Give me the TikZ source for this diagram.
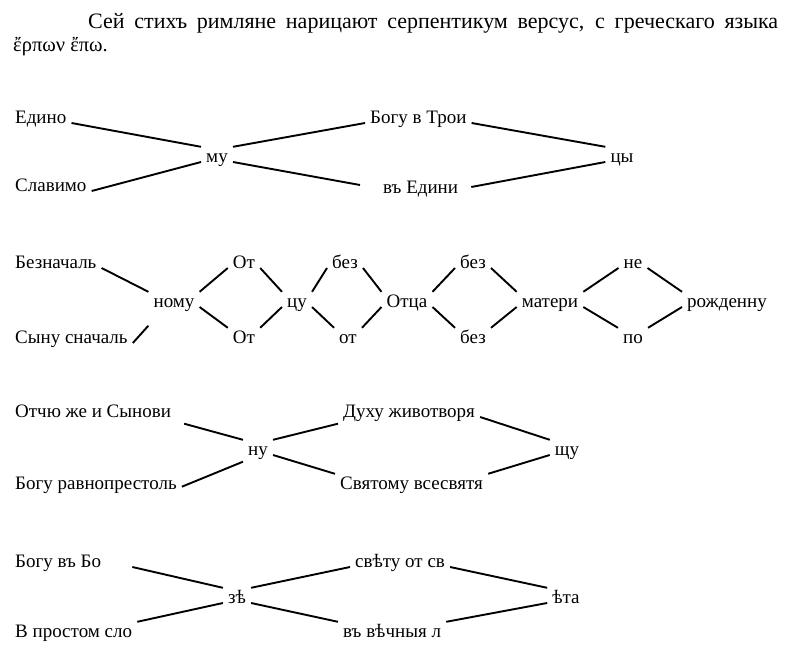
\documentclass[tikz,border=0pt]{standalone}
\usepackage{fontspec}
\setmainfont{Liberation Serif}
\begin{document}
\begin{tikzpicture}[x=1pt,y=-1pt,
  word/.style={inner xsep=5pt,inner ysep=2pt,text height=13pt,text depth=4.5pt,font=\fontsize{19}{22}\selectfont},
  link/.style={line width=1.9pt}]
  \useasboundingbox (0,0) rectangle (788,667);
  % heading
  \node[anchor=base west,inner sep=0pt,font=\fontsize{22}{26}\selectfont] (title) at (88,28)
    {\makebox[690pt][s]{Сей стихъ римляне нарицают серпентикум версус, с греческаго языка}};
  \node[anchor=base west,inner sep=0pt,font=\fontsize{20.5}{24}\selectfont] (greek) at (13,51) {ἔρπων ἔπω.};

  % first verse
  \node[word,anchor=base west] (edino) at (10,123) {Едино};
  \node[word,anchor=base west] (slavimo) at (10,191) {Славимо};
  \node[word,anchor=base] (mu) at (217,162) {му};
  \node[word,anchor=base west] (bogu) at (365,123) {Богу в Трои};
  \node[word,anchor=base west] (vedini) at (378,193) {въ Едини};
  \node[word,anchor=base] (tsy) at (622,162) {цы};

  \path[link]
    (edino.base east) edge (mu.north west)
    (slavimo.base east) edge (mu.base west)
    (mu.north east) edge (bogu.base west)
    (mu.base east) edge ([shift={(-18pt,8pt)}]vedini.base west)
    (bogu.base east) edge (tsy.north west)
    ([shift={(8pt,6pt)}]vedini.base east) edge (tsy.base west);

  % second verse
  \node[word,anchor=base west] (beznach) at (10,268) {Безначаль};
  \node[word,anchor=base west] (synu) at (10,343) {Сыну сначаль};
  \node[word,anchor=base] (nomu) at (174,307) {ному};
  \node[word,anchor=base] (ot1) at (244,268) {От};
  \node[word,anchor=base] (ot2) at (244,343) {От};
  \node[word,anchor=base] (tsu) at (297,307) {цу};
  \node[word,anchor=base] (bez1) at (345,268) {без};
  \node[word,anchor=base] (ot3) at (348,343) {от};
  \node[word,anchor=base] (otsa) at (407,307) {Отца};
  \node[word,anchor=base] (bez2) at (473,268) {без};
  \node[word,anchor=base] (bez3) at (473,343) {без};
  \node[word,anchor=base] (materi) at (550,307) {матери};
  \node[word,anchor=base] (ne) at (633,268) {не};
  \node[word,anchor=base] (po) at (633,343) {по};
  \node[word,anchor=base west] (rozh) at (682,307) {рожденну};

  \path[link]
    (beznach.base east) edge (nomu.north west)
    (synu.base east) edge ([yshift=-12pt]nomu.south west)
    (nomu.north east) edge (ot1.base west)
    (ot1.base east) edge (tsu.north west)
    (nomu.base east) edge (ot2.north west)
    (ot2.north east) edge (tsu.base west)
    (tsu.north east) edge (bez1.base west)
    (bez1.base east) edge (otsa.north west)
    (tsu.base east) edge (ot3.north west)
    (ot3.north east) edge (otsa.base west)
    (otsa.north east) edge (bez2.base west)
    (bez2.base east) edge (materi.north west)
    (otsa.base east) edge (bez3.north west)
    (bez3.north east) edge (materi.base west)
    (materi.north east) edge (ne.base west)
    (ne.base east) edge (rozh.north west)
    (materi.base east) edge (po.north west)
    (po.north east) edge (rozh.base west);

  % third verse
  \node[word,anchor=base west] (otchu) at (10,417) {Отчю же и Сынови};
  \node[word,anchor=base west] (bogur) at (10,489) {Богу равнопрестоль};
  \node[word,anchor=base] (nu) at (258,455) {ну};
  \node[word,anchor=base west] (dukhu) at (338,417) {Духу животворя};
  \node[word,anchor=base west] (svyat) at (335,489) {Святому всесвятя};
  \node[word,anchor=base] (shchu) at (567,455) {щу};

  \path[link]
    ([xshift=8pt]otchu.south east) edge (nu.north west)
    (bogur.mid east) edge (nu.south west)
    (nu.north east) edge (dukhu.south west)
    (nu.base east) edge (svyat.north west)
    (dukhu.base east) edge (shchu.north west)
    (svyat.north east) edge (shchu.base west);

  % fourth verse
  \node[word,anchor=base west] (bogub) at (10,567) {Богу въ Бо};
  \node[word,anchor=base west] (prost) at (10,637) {В простом сло};
  \node[word,anchor=base] (zye) at (237,603) {зѣ};
  \node[word,anchor=base west] (svetu) at (350,567) {свѣту от св};
  \node[word,anchor=base west] (vvech) at (338,637) {въ вѣчныя л};
  \node[word,anchor=base] (yata) at (566,603) {ѣта};

  \path[link]
    ([xshift=26pt]bogub.base east) edge (zye.north west)
    (prost.north east) edge (zye.base west)
    (zye.north east) edge (svetu.base west)
    (zye.base east) edge (vvech.north west)
    (svetu.base east) edge (yata.north west)
    (vvech.north east) edge (yata.base west);
\end{tikzpicture}
\end{document}
